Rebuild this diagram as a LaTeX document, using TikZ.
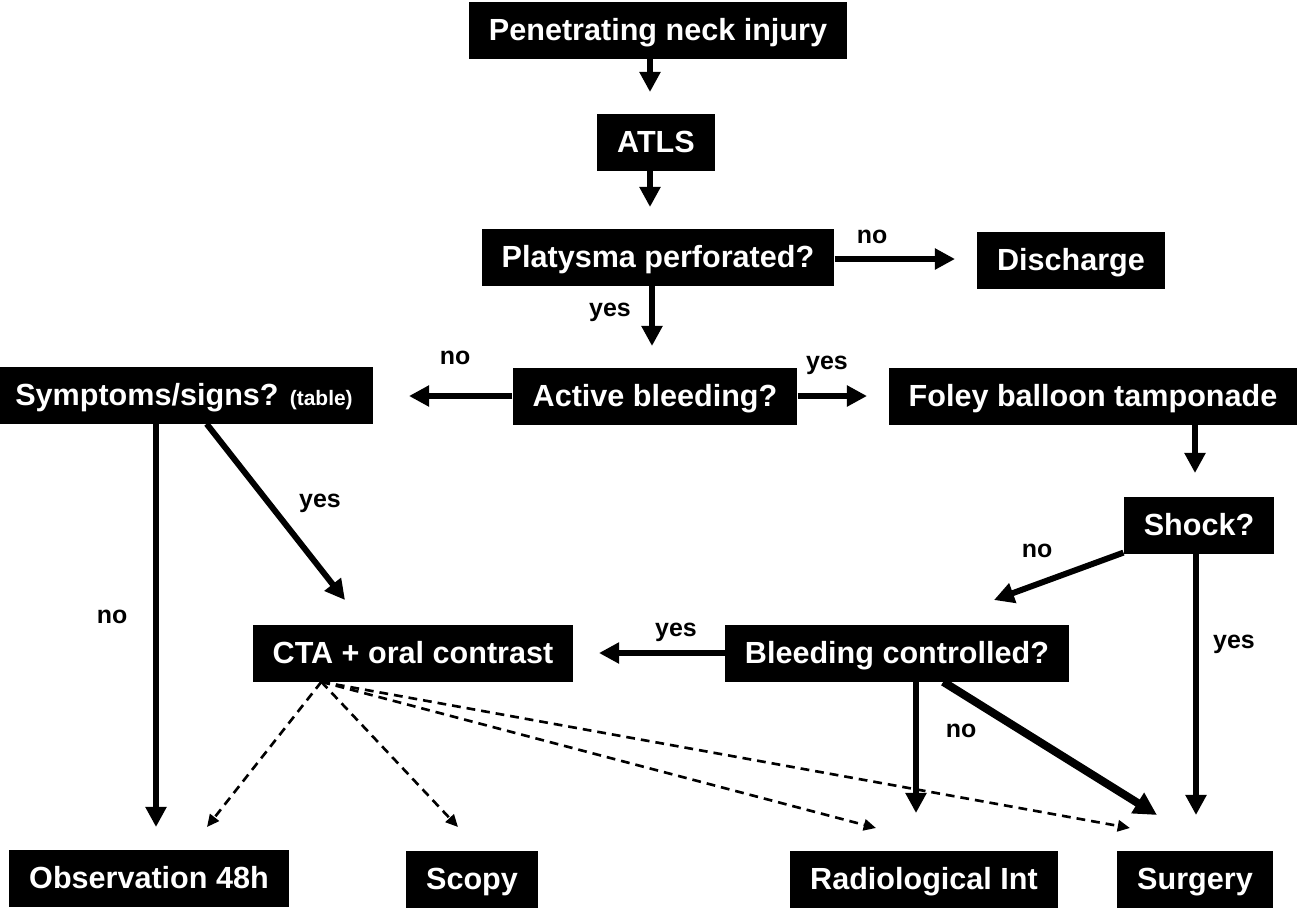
\documentclass[tikz,border=0pt]{standalone}
\usepackage{fontspec}
\setmainfont{Liberation Sans}
\usetikzlibrary{arrows.meta, positioning}

\tikzset{
  box/.style={fill=black, text=white, font=\bfseries\fontsize{17.4}{20}\selectfont,
    inner xsep=0.4cm, inner ysep=0pt, text height=12.5pt, text depth=0pt, minimum height=1.14cm},
  lab/.style={font=\bfseries\fontsize{14.2}{16}\selectfont},
  arr/.style={line width=3.4pt, -{Triangle[length=11.4pt,width=11.4pt]}},
  fatarr/.style={line width=4.6pt, -{Triangle[length=13pt,width=13pt]}},
  darr/.style={line width=1.5pt, dash pattern=on 5pt off 3.4pt, -{Triangle[length=7pt,width=6.4pt]}}
}

\begin{document}
\begin{tikzpicture}[x=0.02cm, y=-0.02cm]
		\useasboundingbox (0,0) rectangle (1299,907);
		% boxes
		\node[box] (pen) at (658,30) {Penetrating neck injury};
		\node[box] (atls) at (656,142) {ATLS};
		\node[box] (plat) at (658,257) {Platysma perforated?};
		\node[box] (disc) at (1071,260) {Discharge};
		\node[box] (bleed) at (655,396) {Active bleeding?};
		\node[box] (symp) at (184,395) {Symptoms/signs? {\fontsize{11.9}{14}\selectfont(table)}};
		\node[box] (foley) at (1093,396) {Foley balloon tamponade};
		\node[box] (shock) at (1199,525) {Shock?};
		\node[box] (ctrl) at (897,653) {Bleeding controlled?};
		\node[box] (cta) at (413,653) {CTA + oral contrast};
		\node[box] (obs) at (149,878) {Observation 48h};
		\node[box] (scopy) at (472,879) {Scopy};
		\node[box] (radio) at (924,879) {Radiological Int};
		\node[box] (surg) at (1195,879) {Surgery};
		% arrow ends
		\coordinate (t1) at (650,92);
		\coordinate (t2) at (650,207);
		\coordinate (t3) at (955,259);
		\coordinate (t4) at (652,346);
		\coordinate (t5) at (409,396);
		\coordinate (t6) at (867,396);
		\coordinate (t7) at (1195,473);
		\coordinate (t8) at (994,600);
		\coordinate (t9) at (1196,815);
		\coordinate (t10) at (599,653);
		\coordinate (t11) at (916,813);
		\coordinate (t12) at (1157,815);
		\coordinate (t13) at (156,827);
		\coordinate (t14) at (345,600);
		\coordinate (ctaout) at ([xshift=1.38cm]cta.south west);
		\coordinate (d1) at (207,827);
		\coordinate (d2) at (458,827);
		\coordinate (d3) at (876,828);
		\coordinate (d4) at (1130,828);
		% solid arrows
		\draw[arr] (pen.south -| t1) -- (t1);
		\draw[arr] (atls.south -| t2) -- (t2);
		\draw[arr] (plat.east |- t3) -- (t3);
		\draw[arr] (plat.south -| t4) -- (t4);
		\draw[arr] (bleed.west |- t5) -- (t5);
		\draw[arr] (bleed.east |- t6) -- (t6);
		\draw[arr] (foley.south -| t7) -- (t7);
		\draw[arr] (shock) -- (t8);
		\draw[arr] (shock.south -| t9) -- (t9);
		\draw[arr] (ctrl.west |- t10) -- (t10);
		\draw[arr] (ctrl.south -| t11) -- (t11);
		\draw[fatarr] (ctrl) -- (t12);
		\draw[arr] (symp.south -| t13) -- (t13);
		\draw[arr] (symp) -- (t14);
		% dashed arrows
		\foreach \d in {d1,d2,d3,d4}
			\draw[darr] (ctaout) -- (\d);
		% labels
		\node[lab] at (872,237) {no};
		\node[lab] at (610,312) {yes};
		\node[lab] at (455,358) {no};
		\node[lab] at (827,365) {yes};
		\node[lab] at (1037,551) {no};
		\node[lab] at (1234,644) {yes};
		\node[lab] at (676,632) {yes};
		\node[lab] at (961,731) {no};
		\node[lab] at (320,503) {yes};
		\node[lab] at (112,617) {no};
\end{tikzpicture}
\end{document}
